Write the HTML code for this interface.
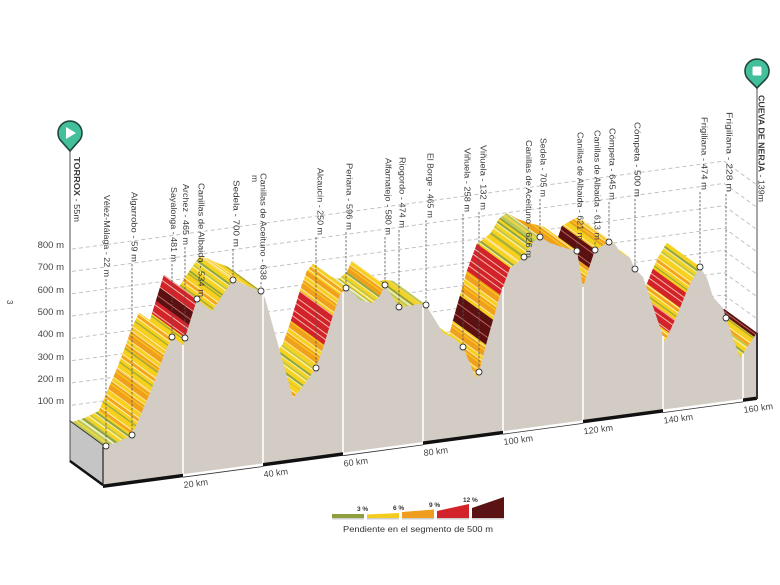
<!DOCTYPE html>
<html><head><meta charset="utf-8"><style>
html,body{margin:0;padding:0;background:#fff;}
svg{display:block;font-family:"Liberation Sans","DejaVu Sans",sans-serif;}
</style></head><body>
<svg width="780" height="585" viewBox="0 0 780 585" xmlns="http://www.w3.org/2000/svg">
<defs>
<pattern id="pY" patternUnits="userSpaceOnUse" width="40" height="14" patternTransform="rotate(36)">
<rect width="40" height="14" fill="#f7cf1f"/><rect y="4" width="40" height="1" fill="#fff4b0"/><rect y="5" width="40" height="3" fill="#f2a51d"/><rect y="8" width="40" height="1" fill="#fff4b0"/><rect y="12" width="40" height="1.2" fill="#95a83c"/>
</pattern>
<pattern id="pO" patternUnits="userSpaceOnUse" width="40" height="13" patternTransform="rotate(36)">
<rect width="40" height="13" fill="#f0a01c"/><rect y="4" width="40" height="1" fill="#fde9a0"/><rect y="5" width="40" height="3" fill="#f7cf1f"/><rect y="8" width="40" height="1" fill="#fde9a0"/><rect y="11" width="40" height="1" fill="#f7cf1f"/>
</pattern>
<pattern id="pGY" patternUnits="userSpaceOnUse" width="40" height="13" patternTransform="rotate(36)">
<rect width="40" height="13" fill="#f6d322"/><rect y="3" width="40" height="2" fill="#90a63b"/><rect y="5" width="40" height="1" fill="#f4f0c0"/><rect y="9" width="40" height="1.5" fill="#b8c64e"/><rect y="11" width="40" height="1" fill="#fff6c8"/>
</pattern>
<pattern id="pG" patternUnits="userSpaceOnUse" width="40" height="11" patternTransform="rotate(36)">
<rect width="40" height="11" fill="#bcc75c"/><rect y="3" width="40" height="2" fill="#8fa23a"/><rect y="5" width="40" height="2" fill="#eef0c4"/><rect y="9" width="40" height="2" fill="#f1d644"/>
</pattern>
<pattern id="pR" patternUnits="userSpaceOnUse" width="40" height="12" patternTransform="rotate(36)">
<rect width="40" height="12" fill="#d2222a"/><rect y="6" width="40" height="1" fill="#f6b9a8"/><rect y="11" width="40" height="1" fill="#f6b9a8"/>
</pattern>
<pattern id="pK" patternUnits="userSpaceOnUse" width="40" height="10" patternTransform="rotate(36)">
<rect width="40" height="10" fill="#5b1011"/><rect y="6" width="40" height="1" fill="#b9625c"/>
</pattern>
</defs>
<rect width="780" height="585" fill="#fff"/>

<!-- gridlines -->
<g fill="none" stroke="#bdbdbd" stroke-width="0.9" stroke-dasharray="4 3">
<polyline points="72,405.2 724,317.2 757,341.2"/>
<polyline points="72,382.9 724,294.9 757,318.9"/>
<polyline points="72,360.6 724,272.6 757,296.6"/>
<polyline points="72,338.3 724,250.3 757,274.3"/>
<polyline points="72,316 724,228 757,252"/>
<polyline points="72,293.7 724,205.7 757,229.7"/>
<polyline points="72,271.4 724,183.4 757,207.4"/>
<polyline points="72,249.1 724,161.1 757,185.1"/>
</g>

<!-- poles -->
<line x1="70" y1="150" x2="70" y2="421" stroke="#8a8a8a" stroke-width="1.5"/>
<line x1="757" y1="87" x2="757" y2="333" stroke="#8a8a8a" stroke-width="1.5"/>

<!-- top surface quads (right to left) -->
<g stroke-width="0.5">
<polygon fill="url(#pK)" stroke="url(#pK)" points="754,337 757,333 724,309 721,313"/>
<polygon fill="url(#pY)" stroke="url(#pY)" points="748,346 754,337 721,313 715,322"/>
<polygon fill="url(#pGY)" stroke="url(#pGY)" points="740,358 748,346 715,322 707,334"/>
<polygon fill="url(#pGY)" stroke="url(#pGY)" points="692,280 700,267 667,243 659,256"/>
<polygon fill="url(#pY)" stroke="url(#pY)" points="686,293 692,280 659,256 653,269"/>
<polygon fill="url(#pR)" stroke="url(#pR)" points="680,308 686,293 653,269 647,284"/>
<polygon fill="url(#pY)" stroke="url(#pY)" points="675,320 680,308 647,284 642,296"/>
<polygon fill="url(#pR)" stroke="url(#pR)" points="669,333 675,320 642,296 636,309"/>
<polygon fill="url(#pY)" stroke="url(#pY)" points="665,342 669,333 636,309 632,318"/>
<polygon fill="url(#pGY)" stroke="url(#pGY)" points="620,252 630,258 597,234 587,228"/>
<polygon fill="url(#pY)" stroke="url(#pY)" points="609,242 615,244 582,220 576,218"/>
<polygon fill="url(#pO)" stroke="url(#pO)" points="602,246 609,242 576,218 569,222"/>
<polygon fill="url(#pY)" stroke="url(#pY)" points="595,250 602,246 569,222 562,226"/>
<polygon fill="url(#pK)" stroke="url(#pK)" points="589,268 595,250 562,226 556,244"/>
<polygon fill="url(#pO)" stroke="url(#pO)" points="583,287 589,268 556,244 550,263"/>
<polygon fill="url(#pO)" stroke="url(#pO)" points="565,248 577,251 544,227 532,224"/>
<polygon fill="url(#pO)" stroke="url(#pO)" points="550,243 565,248 532,224 517,219"/>
<polygon fill="url(#pO)" stroke="url(#pO)" points="540,237 550,243 517,219 507,213"/>
<polygon fill="url(#pG)" stroke="url(#pG)" points="532,243 540,237 507,213 499,219"/>
<polygon fill="url(#pGY)" stroke="url(#pGY)" points="524,257 532,243 499,219 491,233"/>
<polygon fill="url(#pY)" stroke="url(#pY)" points="518,262 524,257 491,233 485,238"/>
<polygon fill="url(#pGY)" stroke="url(#pGY)" points="510,268 518,262 485,238 477,244"/>
<polygon fill="url(#pR)" stroke="url(#pR)" points="500,295 510,268 477,244 467,271"/>
<polygon fill="url(#pO)" stroke="url(#pO)" points="493,320 500,295 467,271 460,296"/>
<polygon fill="url(#pK)" stroke="url(#pK)" points="486,345 493,320 460,296 453,321"/>
<polygon fill="url(#pO)" stroke="url(#pO)" points="479,372 486,345 453,321 446,348"/>
<polygon fill="url(#pY)" stroke="url(#pY)" points="476,378 479,372 446,348 443,354"/>
<polygon fill="url(#pGY)" stroke="url(#pGY)" points="443,333 455,339 422,315 410,309"/>
<polygon fill="url(#pG)" stroke="url(#pG)" points="418,304 426,305 393,281 385,280"/>
<polygon fill="url(#pGY)" stroke="url(#pGY)" points="410,306 418,304 385,280 377,282"/>
<polygon fill="url(#pG)" stroke="url(#pG)" points="399,307 410,306 377,282 366,283"/>
<polygon fill="url(#pO)" stroke="url(#pO)" points="380,296 385,285 352,261 347,272"/>
<polygon fill="url(#pGY)" stroke="url(#pGY)" points="372,303 380,296 347,272 339,279"/>
<polygon fill="url(#pG)" stroke="url(#pG)" points="360,300 372,303 339,279 327,276"/>
<polygon fill="url(#pG)" stroke="url(#pG)" points="346,288 352,292 319,268 313,264"/>
<polygon fill="url(#pY)" stroke="url(#pY)" points="340,295 346,288 313,264 307,271"/>
<polygon fill="url(#pO)" stroke="url(#pO)" points="333,315 340,295 307,271 300,291"/>
<polygon fill="url(#pR)" stroke="url(#pR)" points="324,345 333,315 300,291 291,321"/>
<polygon fill="url(#pO)" stroke="url(#pO)" points="316,368 324,345 291,321 283,344"/>
<polygon fill="url(#pGY)" stroke="url(#pGY)" points="300,390 316,368 283,344 267,366"/>
<polygon fill="url(#pY)" stroke="url(#pY)" points="293,398 300,390 267,366 260,374"/>
<polygon fill="url(#pY)" stroke="url(#pY)" points="250,287 261,291 228,267 217,263"/>
<polygon fill="url(#pO)" stroke="url(#pO)" points="241,283 250,287 217,263 208,259"/>
<polygon fill="url(#pY)" stroke="url(#pY)" points="233,280 241,283 208,259 200,256"/>
<polygon fill="url(#pGY)" stroke="url(#pGY)" points="222,296 233,280 200,256 189,272"/>
<polygon fill="url(#pY)" stroke="url(#pY)" points="212,311 222,296 189,272 179,287"/>
<polygon fill="url(#pR)" stroke="url(#pR)" points="193,312 197,299 164,275 160,288"/>
<polygon fill="url(#pK)" stroke="url(#pK)" points="189,325 193,312 160,288 156,301"/>
<polygon fill="url(#pR)" stroke="url(#pR)" points="185,338 189,325 156,301 152,314"/>
<polygon fill="url(#pY)" stroke="url(#pY)" points="183,345 185,338 152,314 150,321"/>
<polygon fill="url(#pY)" stroke="url(#pY)" points="172,337 178,341 145,317 139,313"/>
<polygon fill="url(#pY)" stroke="url(#pY)" points="165,352 172,337 139,313 132,328"/>
<polygon fill="url(#pO)" stroke="url(#pO)" points="158,372 165,352 132,328 125,348"/>
<polygon fill="url(#pY)" stroke="url(#pY)" points="150,393 158,372 125,348 117,369"/>
<polygon fill="url(#pO)" stroke="url(#pO)" points="141,414 150,393 117,369 108,390"/>
<polygon fill="url(#pY)" stroke="url(#pY)" points="132,435 141,414 108,390 99,411"/>
<polygon fill="url(#pGY)" stroke="url(#pGY)" points="118,442 132,435 99,411 85,418"/>
<polygon fill="url(#pG)" stroke="url(#pG)" points="106,446 118,442 85,418 73,422"/>
<polygon fill="url(#pG)" stroke="url(#pG)" points="103,445 106,446 73,422 70,421"/>
</g>

<!-- front face -->
<polygon fill="#d3ccc4" points="103,445 106,446 118,442 132,435 141,414 150,393 158,372 165,352 172,337 178,341 183,345 185,338 189,325 193,312 197,299 204,305 212,311 222,296 233,280 241,283 250,287 261,291 265,298 293,398 300,390 316,368 324,345 333,315 340,295 346,288 352,292 360,300 372,303 380,296 385,285 399,307 410,306 418,304 426,305 443,333 455,339 463,347 476,378 479,372 486,345 493,320 500,295 510,268 518,262 524,257 532,243 540,237 550,243 565,248 577,251 583,287 589,268 595,250 602,246 609,242 615,244 620,252 630,258 635,269 643,277 665,342 669,333 675,320 680,308 686,293 692,280 700,267 707,278 713,297 723,308 726,318 740,358 748,346 754,337 757,333 757,397 103,485"/>

<!-- separators -->
<g stroke="#fff" stroke-width="1.6">
<line x1="183" y1="345" x2="183" y2="474.2"/>
<line x1="263" y1="295" x2="263" y2="463.5"/>
<line x1="343" y1="292" x2="343" y2="452.7"/>
<line x1="423" y1="305" x2="423" y2="441.9"/>
<line x1="503" y1="287" x2="503" y2="431.2"/>
<line x1="583" y1="287" x2="583" y2="420.4"/>
<line x1="663" y1="336" x2="663" y2="409.6"/>
<line x1="743" y1="354" x2="743" y2="398.9"/>
</g>

<!-- bottom scale bar -->
<g fill="#111">
<polygon points="103,484.5 183,473.7 183,477.2 103,488"/>
<polygon points="263,463 343,452.2 343,455.7 263,466.5"/>
<polygon points="423,441.4 503,430.7 503,434.2 423,444.9"/>
<polygon points="583,419.9 663,409.1 663,412.6 583,423.4"/>
<polygon points="743,398.4 757,396.5 757,400 743,401.9"/>
</g>
<g stroke="#333" stroke-width="0.8">
<line x1="183" y1="477.2" x2="263" y2="466.5"/>
<line x1="343" y1="455.7" x2="423" y2="444.9"/>
<line x1="503" y1="434.2" x2="583" y2="423.4"/>
<line x1="663" y1="412.6" x2="743" y2="401.9"/>
</g>

<!-- left end box -->
<polygon points="70,421 103,445 103,485 70,461" fill="#c5c5c5" stroke="#2a2a2a" stroke-width="0.8"/>
<line x1="70" y1="461" x2="103" y2="485" stroke="#111" stroke-width="2.5"/>
<line x1="103" y1="445" x2="103" y2="486" stroke="#222" stroke-width="1.2"/>
<line x1="757" y1="333" x2="757" y2="399" stroke="#333" stroke-width="2"/>

<!-- dashed label lines -->
<g stroke="#555" stroke-width="0.8" stroke-dasharray="2.5 1.5">
<line x1="106" y1="279" x2="106" y2="442"/>
<line x1="132" y1="264" x2="132" y2="431"/>
<line x1="172" y1="264" x2="172" y2="333"/>
<line x1="185" y1="247" x2="185" y2="334"/>
<line x1="233" y1="249" x2="233" y2="276"/>
<line x1="261" y1="282" x2="261" y2="287"/>
<line x1="316" y1="237" x2="316" y2="364"/>
<line x1="346" y1="232" x2="346" y2="284"/>
<line x1="385" y1="237" x2="385" y2="281"/>
<line x1="399" y1="230" x2="399" y2="303"/>
<line x1="426" y1="220" x2="426" y2="301"/>
<line x1="463" y1="214" x2="463" y2="343"/>
<line x1="479" y1="212" x2="479" y2="368"/>
<line x1="540" y1="199" x2="540" y2="233"/>
<line x1="577" y1="242" x2="577" y2="247"/>
<line x1="595" y1="242" x2="595" y2="246"/>
<line x1="609" y1="202" x2="609" y2="238"/>
<line x1="635" y1="199" x2="635" y2="265"/>
<line x1="700" y1="192" x2="700" y2="263"/>
<line x1="726" y1="194" x2="726" y2="314"/>
</g>

<!-- dots -->
<g fill="#fff" stroke="#333" stroke-width="0.9">
<circle cx="106" cy="446" r="3"/><circle cx="132" cy="435" r="3"/><circle cx="172" cy="337" r="3"/><circle cx="185" cy="338" r="3"/><circle cx="197" cy="299" r="3"/><circle cx="233" cy="280" r="3"/><circle cx="261" cy="291" r="3"/><circle cx="316" cy="368" r="3"/><circle cx="346" cy="288" r="3"/><circle cx="385" cy="285" r="3"/><circle cx="399" cy="307" r="3"/><circle cx="426" cy="305" r="3"/><circle cx="463" cy="347" r="3"/><circle cx="479" cy="372" r="3"/><circle cx="524" cy="257" r="3"/><circle cx="540" cy="237" r="3"/><circle cx="577" cy="251" r="3"/><circle cx="595" cy="250" r="3"/><circle cx="609" cy="242" r="3"/><circle cx="635" cy="269" r="3"/><circle cx="700" cy="267" r="3"/><circle cx="726" cy="318" r="3"/>
</g>

<!-- vertical labels -->
<g font-size="8.5" fill="#3a3a3a">
<text transform="translate(74,157) rotate(90)" textLength="65" lengthAdjust="spacingAndGlyphs"><tspan font-weight="bold">TORROX</tspan> - 55m</text>
<text transform="translate(104,195) rotate(90)" textLength="82" lengthAdjust="spacingAndGlyphs">Vélez-Málaga - 22 m</text>
<text transform="translate(131.5,192) rotate(90)" textLength="70" lengthAdjust="spacingAndGlyphs">Algarrobo - 59 m</text>
<text transform="translate(171,187) rotate(90)" textLength="75" lengthAdjust="spacingAndGlyphs">Sayalonga - 481 m</text>
<text transform="translate(183,184) rotate(90)" textLength="61" lengthAdjust="spacingAndGlyphs">Archez - 465 m</text>
<text transform="translate(198.5,183) rotate(90)" textLength="114" lengthAdjust="spacingAndGlyphs">Canillas de Albaida - 534 m</text>
<text transform="translate(233.5,180) rotate(90)" textLength="67" lengthAdjust="spacingAndGlyphs">Sedela - 700 m</text>
<text transform="translate(260.5,173) rotate(90)" textLength="107" lengthAdjust="spacingAndGlyphs">Canillas de Aceituno - 638</text>
<text transform="translate(252,175) rotate(90)">m</text>
<text transform="translate(317.5,168) rotate(90)" textLength="67" lengthAdjust="spacingAndGlyphs">Alcaucín - 250 m</text>
<text transform="translate(346.5,163) rotate(90)" textLength="67" lengthAdjust="spacingAndGlyphs">Periana - 596 m</text>
<text transform="translate(385.5,158) rotate(90)" textLength="77" lengthAdjust="spacingAndGlyphs">Alfarnatejo - 580 m</text>
<text transform="translate(399.5,157) rotate(90)" textLength="71" lengthAdjust="spacingAndGlyphs">Riogordo - 474 m</text>
<text transform="translate(427.5,153) rotate(90)" textLength="65" lengthAdjust="spacingAndGlyphs">El Borge - 465 m</text>
<text transform="translate(464.5,148) rotate(90)" textLength="64" lengthAdjust="spacingAndGlyphs">Viñuela - 258 m</text>
<text transform="translate(480.5,145) rotate(90)" textLength="65" lengthAdjust="spacingAndGlyphs">Viñuela - 132 m</text>
<text transform="translate(526,140) rotate(90)" textLength="118" lengthAdjust="spacingAndGlyphs">Canillas de Aceituno - 626 m</text>
<text transform="translate(540.5,138) rotate(90)" textLength="59" lengthAdjust="spacingAndGlyphs">Sedela - 705 m</text>
<text transform="translate(577.5,132) rotate(90)" textLength="108" lengthAdjust="spacingAndGlyphs">Canillas de Albaida - 621 m</text>
<text transform="translate(594.5,130) rotate(90)" textLength="110" lengthAdjust="spacingAndGlyphs">Canillas de Albaida - 613 m</text>
<text transform="translate(609.5,128) rotate(90)" textLength="72" lengthAdjust="spacingAndGlyphs">Cómpeta - 645 m</text>
<text transform="translate(634.5,122) rotate(90)" textLength="75" lengthAdjust="spacingAndGlyphs">Cómpeta - 500 m</text>
<text transform="translate(701.5,117) rotate(90)" textLength="73" lengthAdjust="spacingAndGlyphs">Frigiliana - 474 m</text>
<text transform="translate(726.5,112) rotate(90)" textLength="80" lengthAdjust="spacingAndGlyphs">Frigiliana - 228 m</text>
<text transform="translate(758.5,95) rotate(90)" textLength="107" lengthAdjust="spacingAndGlyphs"><tspan font-weight="bold">CUEVA DE NERJA</tspan> - 139m</text>
</g>

<!-- elevation labels -->
<g font-size="9.5" fill="#444" text-anchor="end">
<text x="64" y="404">100 m</text>
<text x="64" y="382">200 m</text>
<text x="64" y="360">300 m</text>
<text x="64" y="337">400 m</text>
<text x="64" y="315">500 m</text>
<text x="64" y="293">600 m</text>
<text x="64" y="270">700 m</text>
<text x="64" y="248">800 m</text>
</g>
<text transform="translate(7,300) rotate(90)" font-size="8" fill="#444">3</text>

<!-- km labels -->
<g font-size="9" fill="#444">
<text x="184" y="488" transform="rotate(-7.7 184 488)">20 km</text>
<text x="264" y="477.5" transform="rotate(-7.7 264 477.5)">40 km</text>
<text x="344" y="466.7" transform="rotate(-7.7 344 466.7)">60 km</text>
<text x="424" y="456" transform="rotate(-7.7 424 456)">80 km</text>
<text x="504" y="445" transform="rotate(-7.7 504 445)">100 km</text>
<text x="584" y="434.4" transform="rotate(-7.7 584 434.4)">120 km</text>
<text x="664" y="423.6" transform="rotate(-7.7 664 423.6)">140 km</text>
<text x="744" y="413" transform="rotate(-7.7 744 413)">160 km</text>
</g>

<!-- pins -->
<path d="M70,151 L62,142 A12,12 0 1,1 78,142 Z" fill="#43bf9b" stroke="#21463d" stroke-width="1.6"/>
<polygon points="66,127 66,139 76,133" fill="#fff"/>
<path d="M757,88 L749,80 A12,12 0 1,1 765,80 Z" fill="#43bf9b" stroke="#21463d" stroke-width="1.6"/>
<rect x="752.5" y="66.5" width="9" height="9" rx="1.5" fill="#fff"/>

<!-- legend -->
<g>
<rect x="332" y="518" width="32" height="1.5" fill="#cfcfcf"/>
<rect x="367" y="518" width="32" height="1.5" fill="#cfcfcf"/>
<rect x="402" y="518" width="32" height="1.5" fill="#cfcfcf"/>
<rect x="437" y="518" width="32" height="1.5" fill="#cfcfcf"/>
<rect x="472" y="518" width="32" height="1.5" fill="#cfcfcf"/>
<polygon points="332,514 364,514 364,518 332,518" fill="#8e9e3c"/>
<polygon points="367,514.5 399,513 399,518 367,518" fill="#f4cc1d"/>
<polygon points="402,512 434,509.5 434,518 402,518" fill="#ef9d1e"/>
<polygon points="437,511 469,504 469,518 437,518" fill="#d3232a"/>
<polygon points="472,508 504,497 504,518 472,518" fill="#5a1212"/>
<g font-size="6.5" font-weight="bold" fill="#333">
<text x="357" y="511">3 %</text>
<text x="393" y="510">6 %</text>
<text x="429" y="507">9 %</text>
<text x="463" y="502">12 %</text>
</g>
<text x="343" y="532" font-size="8.5" fill="#333" textLength="150" lengthAdjust="spacingAndGlyphs">Pendiente en el segmento de 500 m</text>
</g>
</svg>
</body></html>
